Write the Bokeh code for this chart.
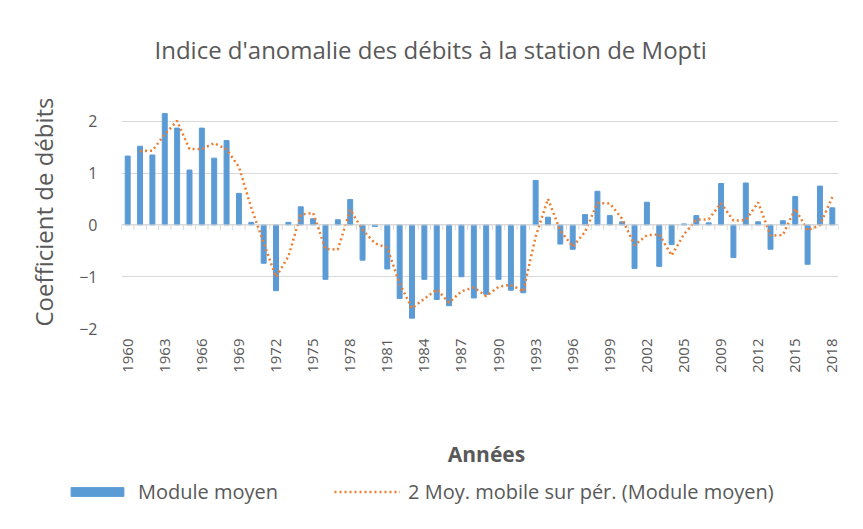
import math
from bokeh.plotting import figure
from bokeh.layouts import column, row
from bokeh.models import Range1d, FixedTicker, Span, Legend, LegendItem, Label
from bokeh.embed import file_html
from bokeh.resources import INLINE

# ---- data ----
years = [1960, 1961, 1962, 1963, 1964, 1965, 1966, 1967, 1968, 1969,
         1970, 1971, 1972, 1973, 1974, 1975, 1976, 1977, 1978, 1979,
         1980, 1981, 1982, 1983, 1984, 1985, 1986, 1987, 1988, 1989,
         1990, 1991, 1992, 1993, 1994, 1995, 1996, 1997, 1998, 1999,
         2000, 2001, 2002, 2003, 2004, 2005, 2006, 2007, 2009, 2010,
         2011, 2012, 2013, 2014, 2015, 2016, 2017, 2018]
module_moyen = [1.33, 1.52, 1.35, 2.15, 1.87, 1.06, 1.87, 1.29, 1.63, 0.61,
                0.05, -0.74, -1.27, 0.05, 0.35, 0.12, -1.05, 0.10, 0.49, -0.68,
                -0.03, -0.85, -1.42, -1.80, -1.05, -1.44, -1.56, -1.00, -1.41, -1.34,
                -1.05, -1.26, -1.31, 0.86, 0.15, -0.37, -0.47, 0.20, 0.65, 0.18,
                0.06, -0.84, 0.44, -0.80, -0.38, 0.02, 0.18, 0.04, 0.80, -0.63,
                0.81, 0.06, -0.47, 0.08, 0.55, -0.76, 0.75, 0.33]
# 2-period moving average (from second year)
moy_mobile = [1.425, 1.435, 1.75, 2.01, 1.465, 1.465, 1.58, 1.46, 1.12,
              0.33, -0.345, -1.005, -0.61, 0.20, 0.235, -0.465, -0.475, 0.295, -0.095,
              -0.355, -0.44, -1.135, -1.61, -1.425, -1.245, -1.50, -1.28, -1.205, -1.375,
              -1.195, -1.155, -1.285, -0.225, 0.505, -0.11, -0.42, -0.135, 0.425, 0.415,
              0.12, -0.39, -0.20, -0.18, -0.59, -0.18, 0.10, 0.11, 0.42, 0.085,
              0.09, 0.435, -0.205, -0.195, 0.315, -0.105, -0.005, 0.54]
y_ticks = [-2, -1, 0, 1, 2]
series_names = ["Module moyen", "2 Moy. mobile sur pér. (Module moyen)"]

idx = list(range(len(years)))
ma_idx = idx[1:]

TXT = "#595959"
FONT = "Open Sans"
BAR_C = "#5B9BD5"
LINE_C = "#ED7D31"

p = figure(frame_width=717, frame_height=233, output_backend="svg", toolbar_location=None,
           x_range=Range1d(-0.5, len(years) - 0.5), y_range=Range1d(-2, 2.5),
           min_border_left=121, min_border_right=25, min_border_top=94,
           min_border_bottom=53)
p.outline_line_color = None
p.background_fill_color = "white"
p.border_fill_color = "white"

# title
p.title.text = "Indice d'anomalie des débits à la station de Mopti"
p.title.align = "left"
p.title.offset = 33
p.title.text_font = FONT
p.title.text_font_size = "24px"
p.title.text_font_style = "normal"
p.title.text_color = TXT
p.title.standoff = 60

# grid
p.xgrid.visible = False
p.ygrid.ticker = FixedTicker(ticks=y_ticks)
p.ygrid.grid_line_color = "#D9D9D9"
p.ygrid.grid_line_width = 1

# zero axis line with category tick marks
p.add_layout(Span(location=0, dimension="width", line_color="#D9D9D9", line_width=1))
bounds = [i - 0.5 for i in idx] + [idx[-1] + 0.5]
p.segment(x0=bounds, y0=[0] * len(bounds), x1=bounds, y1=[-0.1] * len(bounds),
          line_color="#D9D9D9", line_width=1)

bars = p.vbar(x=idx, top=module_moyen, width=0.4, color=BAR_C)
line = p.line(x=ma_idx, y=moy_mobile, line_color=LINE_C, line_width=2.5,
              line_dash="2 3", line_cap="butt")

# y axis
yax = p.yaxis[0]
yax.ticker = FixedTicker(ticks=y_ticks)
yax.axis_line_color = None
yax.major_tick_line_color = None
yax.minor_tick_line_color = None
yax.major_label_standoff = 18
yax.major_label_text_font = FONT
yax.major_label_text_font_size = "16px"
yax.major_label_text_color = TXT
yax.axis_label = "Coefficient de débits"
yax.axis_label_text_font = FONT
yax.axis_label_text_font_size = "24px"
yax.axis_label_text_font_style = "normal"
yax.axis_label_text_color = TXT
yax.axis_label_standoff = 16

# x axis
xax = p.xaxis[0]
xticks = idx[::3]
xax.ticker = FixedTicker(ticks=xticks)
xax.major_label_overrides = {i: str(years[i]) for i in xticks}
xax.major_label_orientation = math.pi / 2
xax.axis_line_color = None
xax.major_tick_line_color = None
xax.minor_tick_line_color = None
xax.major_label_standoff = 4
xax.major_label_text_font = FONT
xax.major_label_text_font_size = "15px"
xax.major_label_text_color = TXT

# ---- lower band: x-axis title and legend ----
lf = figure(width=863, height=149, output_backend="svg", toolbar_location=None,
            x_range=Range1d(0, 1), y_range=Range1d(0, 1), min_border=0,
            min_border_left=0, min_border_right=0, min_border_top=0, min_border_bottom=0,
            x_axis_location=None, y_axis_location=None)
lf.grid.visible = False
lf.outline_line_color = None
lf.border_fill_color = "white"

lf.add_layout(Label(x=486, y=77, x_units="screen", y_units="screen", text="Années",
                    text_align="center", text_baseline="middle", text_font=FONT,
                    text_font_size="21px", text_font_style="bold", text_color=TXT))

# legend proxies (outside the visible range of this band)
lg_bar = lf.vbar(x=[-1], top=[0], width=0.4, color=BAR_C)
lg_line = lf.line(x=[-1, -1], y=[0, 0], line_color=LINE_C, line_width=2.5,
                  line_dash="2 3", line_cap="butt")
legend = Legend(items=[LegendItem(label=series_names[0], renderers=[lg_bar]),
                       LegendItem(label=series_names[1], renderers=[lg_line])],
                orientation="horizontal", location=(64, 25),
                label_text_font=FONT, label_text_font_size="20px", label_text_color=TXT,
                glyph_width=66, glyph_height=11, label_standoff=8, spacing=56,
                padding=0, margin=0, border_line_color=None, background_fill_alpha=0)
lf.add_layout(legend, "center")

layout = column(p, row(lf), spacing=0)
open("out.html", "w").write(file_html(layout, INLINE))
